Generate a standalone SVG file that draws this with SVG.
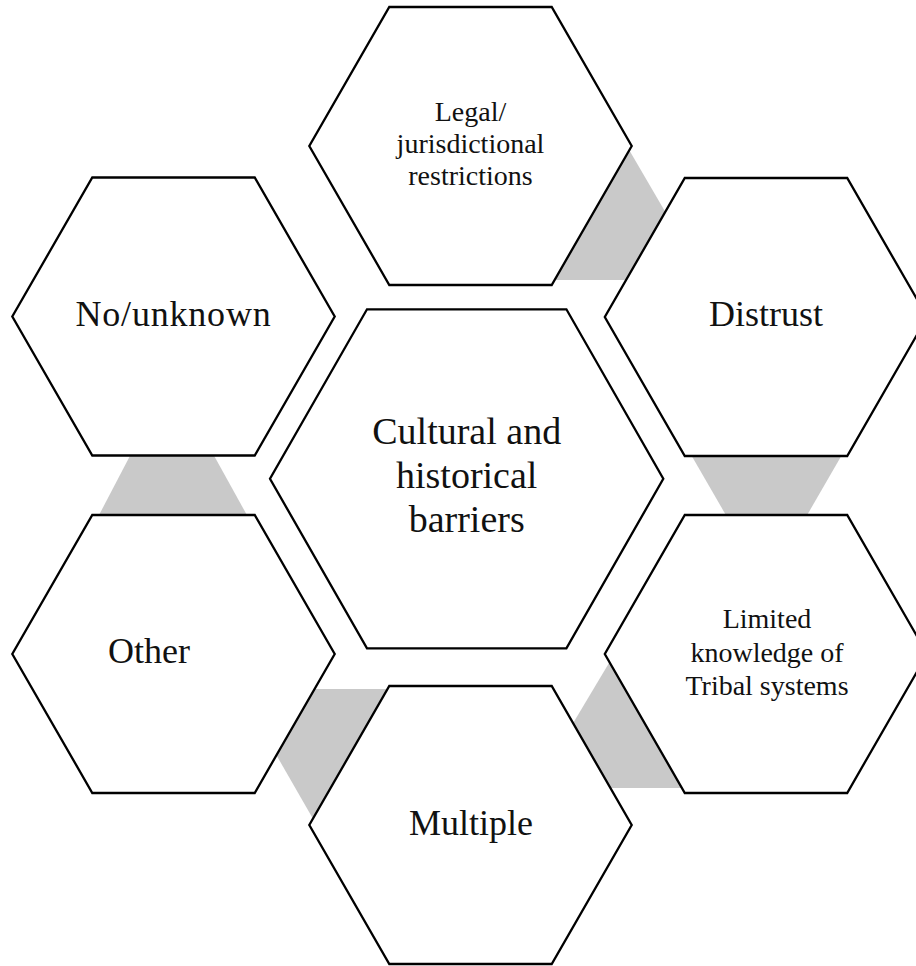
<svg xmlns="http://www.w3.org/2000/svg" width="916" height="966" viewBox="0 0 916 966">
<style>
.hex{fill:#fff;stroke:#000;stroke-width:2.3;stroke-linejoin:miter}
.con{fill:#c9c9c9;stroke:none}
text{font-family:"Liberation Serif","Times New Roman",serif;fill:#111;text-anchor:middle}
.s{font-size:28px}
.m{font-size:36px}
.l{font-size:38px}
</style>
<rect width="916" height="966" fill="#fff"/>
<g id="connectors">
<polygon class="con" points="628,148 670,220 630,280 550,280"/>
<polygon class="con" points="690,453 843,453 806,517 727,517"/>
<polygon class="con" points="612,658 566,735 605,788 690,788"/>
<polygon class="con" points="300,689 395,689 316,824 270,744"/>
<polygon class="con" points="132,452 212,452 248,517 98,517"/>
</g>
<g id="node-legal">
<polygon class="hex" points="389.3,7 551.7,7 631.7,146 551.7,285 389.3,285 309.3,146"/>
<text class="s" x="470.5" y="121">Legal/</text>
<text class="s" x="470.5" y="153">jurisdictional</text>
<text class="s" x="470.5" y="185">restrictions</text>
</g>
<g id="node-distrust">
<polygon class="hex" points="684.8,178 847.2,178 927.2,317 847.2,456 684.8,456 604.8,317"/>
<text class="m" x="766" y="326">Distrust</text>
</g>
<g id="node-limited">
<polygon class="hex" points="684.8,515 847.2,515 927.2,654 847.2,793 684.8,793 604.8,654"/>
<text class="s" x="767" y="628">Limited</text>
<text class="s" x="767" y="661.5">knowledge of</text>
<text class="s" x="767" y="695">Tribal systems</text>
</g>
<g id="node-multiple">
<polygon class="hex" points="389.3,686 551.7,686 631.7,825 551.7,964 389.3,964 309.3,825"/>
<text class="m" x="471" y="835">Multiple</text>
</g>
<g id="node-other">
<polygon class="hex" points="92.3,515 254.7,515 334.7,654 254.7,793 92.3,793 12.3,654"/>
<text class="m" x="149" y="663">Other</text>
</g>
<g id="node-nounknown">
<polygon class="hex" points="92.3,177.5 254.7,177.5 334.7,316.5 254.7,455.5 92.3,455.5 12.3,316.5"/>
<text class="m" x="173.5" y="326" letter-spacing="0.8">No/unknown</text>
</g>
<g id="node-center">
<polygon class="hex" points="367,309.3 566.4,309.3 663.3,478.8 566.4,648.3 367,648.3 270,478.8"/>
<text class="l" x="466.7" y="444">Cultural and</text>
<text class="l" x="466.7" y="488">historical</text>
<text class="l" x="466.7" y="532">barriers</text>
</g>
</svg>
